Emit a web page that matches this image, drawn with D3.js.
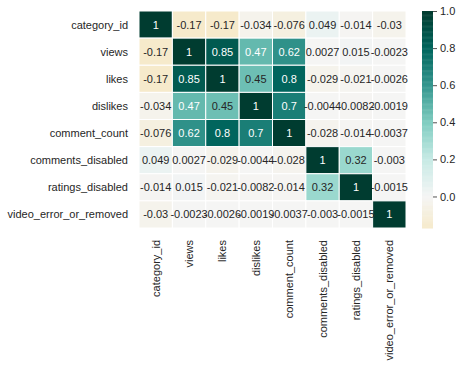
<!DOCTYPE html>
<html>
<head>
<meta charset="utf-8">
<script src="https://cdn.jsdelivr.net/npm/d3@7"></script>
<style>
  body { margin: 0; background: #fff; }
  text { font-family: "Liberation Sans", Arial, sans-serif; font-size: 11px; fill: #262626; }
</style>
</head>
<body>
<svg id="chart" width="465" height="366"></svg>
<script>
// column / row names of the correlation matrix
const labels = ["category_id", "views", "likes", "dislikes", "comment_count",
  "comments_disabled", "ratings_disabled", "video_error_or_removed"];

// one row of correlations per label
const corrCategory = [1, -0.17, -0.17, -0.034, -0.076, 0.049, -0.014, -0.03];
const corrViews = [-0.17, 1, 0.85, 0.47, 0.62, 0.0027, 0.015, -0.0023];
const corrLikes = [-0.17, 0.85, 1, 0.45, 0.8, -0.029, -0.021, -0.0026];
const corrDislikes = [-0.034, 0.47, 0.45, 1, 0.7, -0.0044, -0.0082, -0.0019];
const corrComments = [-0.076, 0.62, 0.8, 0.7, 1, -0.028, -0.014, -0.0037];
const corrCommentsDisabled = [0.049, 0.0027, -0.029, -0.0044, -0.028, 1, 0.32, -0.003];
const corrRatingsDisabled = [-0.014, 0.015, -0.021, -0.0082, -0.014, 0.32, 1, -0.0015];
const corrVideoError = [-0.03, -0.0023, -0.0026, -0.0019, -0.0037, -0.003, -0.0015, 1];

const colorbarTicks = [0, 0.2, 0.4, 0.6, 0.8, 1.0];

// BrBG (matplotlib / colorbrewer 11 class)
const brbgColors = ["#543005", "#8c510a", "#bf812d", "#dfc27d", "#f6e8c3", "#f5f5f5",
  "#c7eae5", "#80cdc1", "#35978f", "#01665e", "#003c30"];

const matrix = [corrCategory, corrViews, corrLikes, corrDislikes, corrComments,
  corrCommentsDisabled, corrRatingsDisabled, corrVideoError];

const cells = [];
matrix.forEach((row, i) => row.forEach((v, j) => cells.push({ row: labels[i], col: labels[j], value: v })));

const svg = d3.select("#chart");
const plot = { left: 139, right: 406, top: 11, bottom: 228 };

const x = d3.scaleBand().domain(labels).range([plot.left, plot.right]);
const y = d3.scaleBand().domain(labels).range([plot.top, plot.bottom]);

// colour mapping like seaborn: centre 0, colormap cut to [vmin, vmax], 256 steps
const vmin = d3.min(cells, d => d.value);
const vmax = d3.max(cells, d => d.value);
const brbg = d3.scaleLinear()
  .domain(d3.range(brbgColors.length).map(i => i / (brbgColors.length - 1)))
  .range(brbgColors)
  .interpolate(d3.interpolateRgb);
const cmin = (vmin + 1) / 2, cmax = (vmax + 1) / 2;
const lut = d => brbg(Math.min(255, Math.floor(d * 256)) / 255);
const listed = i => lut(cmin + (i / 255) * (cmax - cmin));
const norm = d3.scaleLinear().domain([vmin, vmax]).range([0, 256]);
const colorIndex = v => Math.max(0, Math.min(255, Math.floor(norm(v))));
const color = v => listed(colorIndex(v));

const luminance = c => {
  const rgb = d3.rgb(c);
  const lin = [rgb.r, rgb.g, rgb.b].map(u => {
    u /= 255;
    return u <= 0.03928 ? u / 12.92 : Math.pow((u + 0.055) / 1.055, 2.4);
  });
  return 0.2126 * lin[0] + 0.7152 * lin[1] + 0.0722 * lin[2];
};

const fmt = d3.formatLocale({ decimal: ".", thousands: ",", grouping: [3], currency: ["", ""], minus: "-" }).format(".2~g");

// cells
svg.append("g")
  .selectAll("rect")
  .data(cells)
  .enter()
  .append("rect")
  .attr("x", d => x(d.col))
  .attr("y", d => y(d.row))
  .attr("width", x.bandwidth())
  .attr("height", y.bandwidth())
  .attr("fill", d => color(d.value))
  .attr("stroke", "#fff")
  .attr("stroke-width", 1);

// annotations
svg.append("g")
  .selectAll("text")
  .data(cells)
  .enter()
  .append("text")
  .attr("x", d => x(d.col) + x.bandwidth() / 2)
  .attr("y", d => y(d.row) + y.bandwidth() / 2)
  .attr("text-anchor", "middle")
  .attr("dominant-baseline", "central")
  .style("fill", d => luminance(color(d.value)) < 0.408 ? "#fff" : "#262626")
  .text(d => fmt(d.value));

// y labels
svg.append("g")
  .selectAll("text")
  .data(labels)
  .enter()
  .append("text")
  .attr("x", plot.left - 11)
  .attr("y", d => y(d) + y.bandwidth() / 2)
  .attr("text-anchor", "end")
  .attr("dominant-baseline", "central")
  .text(d => d);

// x labels, rotated
svg.append("g")
  .selectAll("text")
  .data(labels)
  .enter()
  .append("text")
  .attr("transform", d => "translate(" + (x(d) + x.bandwidth() / 2) + "," + (plot.bottom + 12) + ") rotate(-90)")
  .attr("text-anchor", "end")
  .attr("dominant-baseline", "central")
  .text(d => d);

// colorbar
const cbar = { left: 422, width: 11 };
const cy = d3.scaleLinear().domain([vmin, vmax]).range([plot.bottom, plot.top]);
const steps = d3.range(256);
svg.append("g")
  .selectAll("rect")
  .data(steps)
  .enter()
  .append("rect")
  .attr("x", cbar.left)
  .attr("y", i => cy(vmin + (i + 1) / 256 * (vmax - vmin)))
  .attr("width", cbar.width)
  .attr("height", i => cy(vmin + i / 256 * (vmax - vmin)) - cy(vmin + (i + 1) / 256 * (vmax - vmin)) + 0.5)
  .attr("fill", i => listed(i));

const cbarAxis = d3.axisRight(cy)
  .tickValues(colorbarTicks)
  .tickFormat(d3.format(".1f"))
  .tickSize(4)
  .tickPadding(3);

const ax = svg.append("g")
  .attr("transform", "translate(" + (cbar.left + cbar.width) + ",0)")
  .call(cbarAxis);
ax.select(".domain").remove();
ax.selectAll(".tick line").attr("stroke", "#262626").attr("stroke-width", 0.8);
ax.selectAll(".tick text")
  .style("font-family", "'Liberation Sans', Arial, sans-serif")
  .style("font-size", "11px")
  .style("fill", "#262626");
</script>
</body>
</html>
